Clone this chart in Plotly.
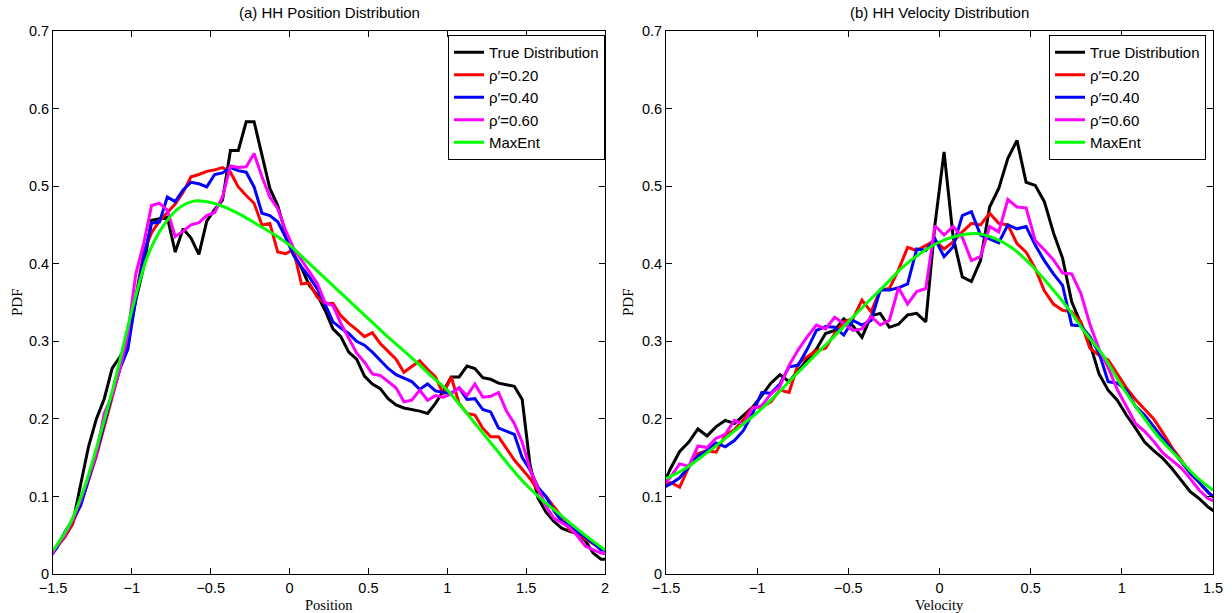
import numpy as np
import plotly.graph_objects as go

# ---------------- data: (a) position distribution ----------------
POS_X = np.round(np.arange(72) * 0.05 - 1.525, 3)
POS_TRUE = [0.020, 0.036, 0.048, 0.065, 0.115, 0.164, 0.200, 0.226, 0.265, 0.280,
            0.299, 0.353, 0.396, 0.456, 0.458, 0.460, 0.415, 0.445, 0.433, 0.412,
            0.455, 0.470, 0.482, 0.546, 0.546, 0.583, 0.583, 0.538, 0.497, 0.475,
            0.439, 0.412, 0.395, 0.372, 0.360, 0.340, 0.316, 0.306, 0.286, 0.277,
            0.255, 0.245, 0.239, 0.226, 0.218, 0.214, 0.212, 0.210, 0.207, 0.220,
            0.236, 0.254, 0.254, 0.268, 0.265, 0.253, 0.251, 0.246, 0.244, 0.242,
            0.225, 0.140, 0.098, 0.080, 0.068, 0.059, 0.055, 0.052, 0.043, 0.027,
            0.019, 0.019]
POS_R20 = [0.020, 0.035, 0.048, 0.066, 0.090, 0.121, 0.152, 0.190, 0.228, 0.265,
           0.300, 0.355, 0.415, 0.440, 0.455, 0.466, 0.477, 0.492, 0.512, 0.515,
           0.519, 0.521, 0.524, 0.518, 0.499, 0.488, 0.478, 0.450, 0.452, 0.415,
           0.413, 0.418, 0.374, 0.375, 0.357, 0.348, 0.349, 0.333, 0.323, 0.315,
           0.306, 0.311, 0.297, 0.287, 0.277, 0.260, 0.268, 0.275, 0.264, 0.254,
           0.232, 0.254, 0.220, 0.207, 0.205, 0.188, 0.177, 0.177, 0.162, 0.147,
           0.135, 0.123, 0.108, 0.100, 0.087, 0.074, 0.057, 0.052, 0.045, 0.039,
           0.033, 0.029]
POS_R40 = [0.020, 0.034, 0.054, 0.070, 0.088, 0.121, 0.155, 0.195, 0.232, 0.265,
           0.290, 0.355, 0.409, 0.452, 0.454, 0.486, 0.480, 0.495, 0.505, 0.503,
           0.499, 0.515, 0.517, 0.524, 0.520, 0.518, 0.499, 0.465, 0.462, 0.454,
           0.434, 0.411, 0.396, 0.383, 0.368, 0.348, 0.325, 0.317, 0.310, 0.300,
           0.295, 0.286, 0.275, 0.265, 0.257, 0.252, 0.248, 0.238, 0.245, 0.236,
           0.234, 0.233, 0.240, 0.225, 0.226, 0.212, 0.209, 0.188, 0.184, 0.180,
           0.150, 0.134, 0.112, 0.100, 0.082, 0.068, 0.062, 0.055, 0.048, 0.040,
           0.031, 0.030]
POS_R60 = [0.020, 0.036, 0.050, 0.070, 0.095, 0.125, 0.155, 0.207, 0.230, 0.265,
           0.310, 0.387, 0.426, 0.475, 0.478, 0.469, 0.435, 0.442, 0.450, 0.453,
           0.462, 0.466, 0.486, 0.526, 0.524, 0.525, 0.542, 0.512, 0.486, 0.471,
           0.443, 0.420, 0.405, 0.390, 0.375, 0.350, 0.346, 0.323, 0.303, 0.285,
           0.273, 0.258, 0.256, 0.248, 0.240, 0.222, 0.224, 0.237, 0.224, 0.230,
           0.228, 0.232, 0.240, 0.230, 0.245, 0.228, 0.229, 0.234, 0.210, 0.194,
           0.170, 0.135, 0.110, 0.088, 0.072, 0.066, 0.060, 0.049, 0.036, 0.031,
           0.027, 0.025]
POS_ME_X = np.round(np.arange(36) * 0.1 - 1.5, 2)
POS_MAXENT = [0.030, 0.062, 0.112, 0.180, 0.255, 0.340, 0.410, 0.449, 0.472, 0.481,
              0.479, 0.472, 0.462, 0.450, 0.438, 0.424, 0.405, 0.386, 0.367, 0.348,
              0.329, 0.310, 0.292, 0.274, 0.255, 0.237, 0.213, 0.188, 0.163, 0.138,
              0.115, 0.096, 0.079, 0.062, 0.046, 0.031]

# ---------------- data: (b) velocity distribution ----------------
VEL_X = np.round(np.arange(62) * 0.05 - 1.525, 3)
VEL_TRUE = [0.110, 0.136, 0.158, 0.170, 0.187, 0.178, 0.190, 0.198, 0.194, 0.204,
            0.215, 0.230, 0.246, 0.257, 0.248, 0.262, 0.276, 0.290, 0.310, 0.314,
            0.329, 0.320, 0.305, 0.333, 0.336, 0.318, 0.322, 0.334, 0.336, 0.325,
            0.450, 0.544, 0.434, 0.383, 0.377, 0.404, 0.473, 0.497, 0.536, 0.559,
            0.505, 0.501, 0.480, 0.440, 0.407, 0.351, 0.323, 0.297, 0.258, 0.237,
            0.224, 0.205, 0.188, 0.170, 0.159, 0.149, 0.136, 0.121, 0.106, 0.097,
            0.086, 0.078]
VEL_R20 = [0.115, 0.118, 0.112, 0.138, 0.155, 0.159, 0.157, 0.179, 0.186, 0.199,
           0.215, 0.215, 0.222, 0.237, 0.234, 0.271, 0.280, 0.288, 0.291, 0.310,
           0.325, 0.329, 0.353, 0.338, 0.366, 0.368, 0.392, 0.421, 0.417, 0.424,
           0.430, 0.419, 0.428, 0.441, 0.452, 0.450, 0.465, 0.452, 0.450, 0.426,
           0.415, 0.394, 0.365, 0.348, 0.340, 0.338, 0.325, 0.291, 0.282, 0.276,
           0.258, 0.240, 0.225, 0.213, 0.200, 0.182, 0.163, 0.147, 0.130, 0.118,
           0.105, 0.095]
VEL_R40 = [0.110, 0.116, 0.124, 0.138, 0.152, 0.159, 0.169, 0.164, 0.172, 0.185,
           0.207, 0.234, 0.233, 0.245, 0.267, 0.269, 0.290, 0.314, 0.319, 0.318,
           0.308, 0.327, 0.321, 0.327, 0.366, 0.366, 0.369, 0.374, 0.419, 0.417,
           0.432, 0.409, 0.422, 0.462, 0.467, 0.437, 0.432, 0.427, 0.450, 0.445,
           0.448, 0.424, 0.404, 0.387, 0.372, 0.321, 0.320, 0.306, 0.285, 0.248,
           0.246, 0.237, 0.216, 0.205, 0.190, 0.175, 0.160, 0.145, 0.130, 0.118,
           0.105, 0.095]
VEL_R60 = [0.112, 0.125, 0.142, 0.139, 0.165, 0.163, 0.175, 0.180, 0.198, 0.193,
           0.214, 0.217, 0.232, 0.242, 0.269, 0.289, 0.306, 0.321, 0.316, 0.331,
           0.323, 0.314, 0.316, 0.332, 0.321, 0.327, 0.369, 0.348, 0.364, 0.368,
           0.449, 0.437, 0.448, 0.434, 0.404, 0.409, 0.448, 0.441, 0.483, 0.473,
           0.472, 0.430, 0.418, 0.405, 0.388, 0.387, 0.362, 0.322, 0.290, 0.266,
           0.238, 0.216, 0.194, 0.184, 0.171, 0.156, 0.146, 0.137, 0.123, 0.108,
           0.097, 0.092]
VEL_ME_X = np.round(np.arange(31) * 0.1 - 1.5, 2)
VEL_MAXENT = [0.123, 0.135, 0.152, 0.170, 0.189, 0.208, 0.230, 0.254, 0.278, 0.301,
              0.325, 0.349, 0.372, 0.396, 0.414, 0.428, 0.436, 0.439, 0.433, 0.420,
              0.399, 0.373, 0.344, 0.311, 0.281, 0.242, 0.208, 0.177, 0.152, 0.127,
              0.108]

NAMES = ["True Distribution", "ρ′=0.20", "ρ′=0.40", "ρ′=0.60", "MaxEnt"]
COLORS = ["#000000", "#ff0000", "#0000ff", "#ff00ff", "#00ff00"]

W, H = 1232, 613


def px(X):
    """screen x pixel -> paper fraction"""
    return X / W


def py(Y):
    """screen y pixel (from top) -> paper fraction"""
    return (H - Y) / H


SANS = "Liberation Sans, Arial, Helvetica, sans-serif"
SERIF = "Liberation Serif, Times New Roman, serif"
LW = 3

fig = go.Figure()

panels = [
    (POS_X, [POS_TRUE, POS_R20, POS_R40, POS_R60], POS_ME_X, POS_MAXENT, "x", "y", "legend"),
    (VEL_X, [VEL_TRUE, VEL_R20, VEL_R40, VEL_R60], VEL_ME_X, VEL_MAXENT, "x2", "y2", "legend2"),
]
for xs, series, mex, mey, xa, ya, lg in panels:
    for i, ys in enumerate(series):
        fig.add_trace(go.Scatter(x=xs, y=ys, mode="lines", name=NAMES[i],
                                 line=dict(color=COLORS[i], width=LW),
                                 xaxis=xa, yaxis=ya, legend=lg))
    fig.add_trace(go.Scatter(x=mex, y=mey, mode="lines", name=NAMES[4],
                             line=dict(color=COLORS[4], width=LW, shape="spline", smoothing=0.8),
                             xaxis=xa, yaxis=ya, legend=lg))

ax_common = dict(showline=True, linecolor="black", linewidth=1, mirror="ticks",
                 ticks="inside", ticklen=6, tickcolor="black", showgrid=False,
                 zeroline=False, automargin=False,
                 tickfont=dict(family=SANS, size=14.5, color="black"))

legend_common = dict(yanchor="top", y=py(35), xanchor="right",
                     bgcolor="white", bordercolor="black", borderwidth=1,
                     font=dict(family=SANS, size=15, color="black"),
                     itemwidth=30, tracegroupgap=0)

fig.update_layout(
    width=W, height=H,
    margin=dict(l=0, r=0, t=0, b=0, pad=0, autoexpand=False),
    paper_bgcolor="white", plot_bgcolor="white",
    showlegend=True,
    xaxis=dict(domain=[px(53), px(605)], range=[-1.5, 2], dtick=0.5, tick0=-1.5,
               anchor="y", ticklabelstandoff=1, **ax_common),
    yaxis=dict(domain=[py(574), py(31)], range=[0, 0.7], dtick=0.1, tick0=0,
               anchor="x", **ax_common),
    xaxis2=dict(domain=[px(666), px(1213)], range=[-1.5, 1.5], dtick=0.5, tick0=-1.5,
                anchor="y2", ticklabelstandoff=1, **ax_common),
    yaxis2=dict(domain=[py(574), py(31)], range=[0, 0.7], dtick=0.1, tick0=0,
                anchor="x2", **ax_common),
    legend=dict(x=px(605), **legend_common),
    legend2=dict(x=px(1206), **legend_common),
)

annots = [
    dict(text="(a) HH Position Distribution", x=px((53 + 605) / 2), y=py(12.5),
         font=dict(family=SANS, size=15, color="black")),
    dict(text="(b) HH Velocity Distribution", x=px((666 + 1213) / 2), y=py(12.5),
         font=dict(family=SANS, size=15, color="black")),
    dict(text="Position", x=px((53 + 605) / 2), y=py(605),
         font=dict(family=SERIF, size=14.5, color="black")),
    dict(text="Velocity", x=px((666 + 1213) / 2), y=py(605),
         font=dict(family=SERIF, size=14.5, color="black")),
    dict(text="PDF", x=px(17), y=py(302), textangle=-90,
         font=dict(family=SERIF, size=15, color="black")),
    dict(text="PDF", x=px(628), y=py(302), textangle=-90,
         font=dict(family=SERIF, size=15, color="black")),
]
for a in annots:
    fig.add_annotation(xref="paper", yref="paper", showarrow=False,
                       xanchor="center", yanchor="middle", **a)

# remove the browser's default 8px page margin so the figure fills the window
fig.write_html("out.html",
               config={"displayModeBar": False},
               post_script="document.body.style.margin='0';document.body.style.overflow='hidden';")
